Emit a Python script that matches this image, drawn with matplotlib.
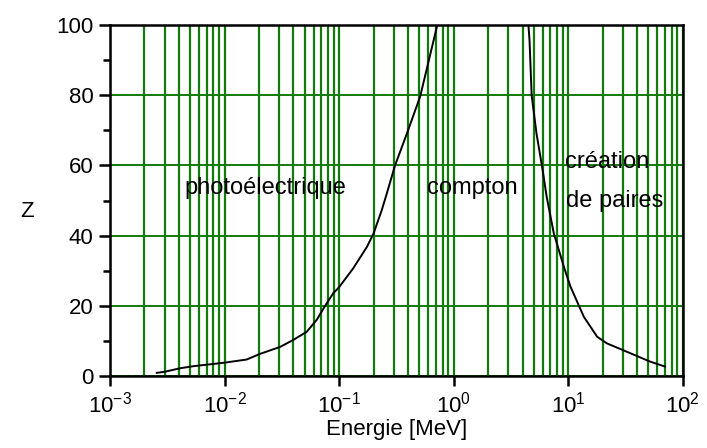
import numpy as np
import matplotlib
matplotlib.use("Agg")
from matplotlib import pyplot as plt
from matplotlib.ticker import LogLocator, FixedLocator, NullFormatter

# photoelectric / compton boundary
e_photo = [0.00256, 0.0030, 0.00408, 0.00535, 0.01, 0.0156, 0.0204, 0.0306,
           0.0399, 0.0522, 0.0638, 0.0755, 0.089, 0.1, 0.133, 0.175, 0.2,
           0.236, 0.261, 0.308, 0.39, 0.51, 0.72]
z_photo = [0.9, 1.2, 2.2, 2.8, 3.8, 4.7, 6.3, 8.3, 10.3, 12.6, 16, 20, 23.6,
           25.3, 30.7, 36.8, 40.6, 47.3, 52, 60, 69, 79.6, 100]

# compton / pair production boundary
e_pair = [4.5, 4.6, 4.8, 5.3, 6.0, 6.5, 7.5, 9.2, 10.5, 13.7, 17.9, 21.8,
          32.6, 52, 70]
z_pair = [100, 95.7, 80, 69, 58.5, 51, 40.6, 31, 25.4, 16.9, 11.2, 9.3,
          6.9, 4.1, 2.7]

plt.rcParams['font.family'] = ['Liberation Sans', 'DejaVu Sans']

fig = plt.figure(figsize=(7.07, 4.48), dpi=100)
ax = fig.add_axes([0.1556, 0.1607, 0.81, 0.7833])

ax.set_xscale('log')
ax.set_xlim(1e-3, 1e2)
ax.set_ylim(0, 100)

green = '#137a0c'
ax.xaxis.set_major_locator(LogLocator(base=10, numticks=10))
ax.xaxis.set_minor_locator(LogLocator(base=10, subs=np.arange(2, 10), numticks=100))
ax.xaxis.set_minor_formatter(NullFormatter())
ax.grid(True, which='both', axis='x', color=green, lw=1.6)
ax.set_yticks([0, 20, 40, 60, 80, 100])
ax.yaxis.set_minor_locator(FixedLocator([10, 30, 50, 70, 90]))
ax.grid(True, which='major', axis='y', color=green, lw=1.4)
ax.set_axisbelow(True)

ax.plot(e_photo, z_photo, color='black', lw=1.4)
ax.plot(e_pair, z_pair, color='black', lw=1.4)

for s in ['left', 'bottom', 'top', 'right']:
    ax.spines[s].set_linewidth(1.8)
    ax.spines[s].set_color('black')

ax.tick_params(axis='x', which='major', direction='out', length=7, width=1.8,
               labelsize=16, pad=4)
ax.tick_params(axis='x', which='minor', length=0)
ax.tick_params(axis='y', which='major', direction='out', length=8, width=1.8,
               labelsize=16, pad=4)
ax.tick_params(axis='y', which='minor', direction='out', length=5, width=1.8)

ax.set_xlabel('Energie [MeV]', fontsize=16, labelpad=1)
ax.set_ylabel('Z', fontsize=16, rotation=0, va='center')
ax.yaxis.set_label_coords(-0.145, 0.47)

ax.text(0.0226, 53.5, 'photoélectrique', fontsize=17, ha='center', va='center')
ax.text(1.45, 53.5, 'compton', fontsize=17, ha='center', va='center')
ax.text(21.9, 61, 'création', fontsize=17, ha='center', va='center')
ax.text(25.7, 50, 'de paires', fontsize=17, ha='center', va='center')

fig.savefig('out.png', dpi=100, facecolor='white')
